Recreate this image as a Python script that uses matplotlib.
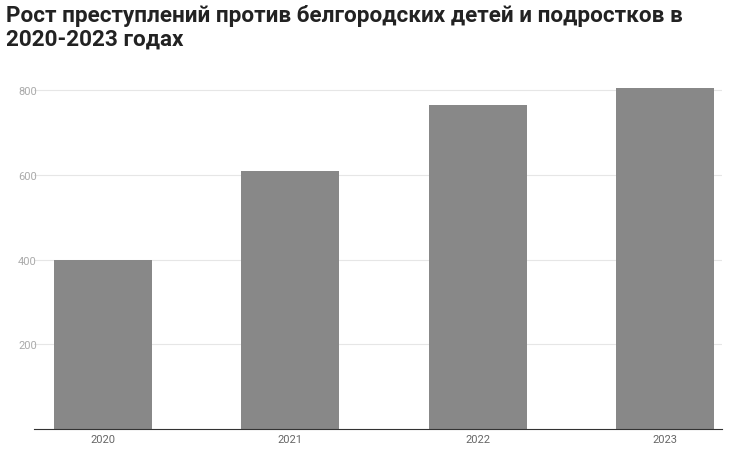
import matplotlib
matplotlib.use("Agg")
import matplotlib.pyplot as plt

years = ["2020", "2021", "2022", "2023"]
values = [400, 609, 765, 805]
yticks = [200, 400, 600, 800]

plt.rcParams['font.family'] = ['Roboto', 'DejaVu Sans']
fig = plt.figure(figsize=(7.38, 4.56), dpi=100)
ax = fig.add_axes([34/738, 1-430/456, (722-34)/738, (430-70)/456])
x = range(len(years))
ax.bar(x, values, width=0.523, color="#888888", zorder=2)
ax.set_xlim(-0.368, 3.304)
ax.set_ylim(0, 850)
ax.set_yticks(yticks)
ax.set_xticks(list(x))
ax.set_xticklabels(years)
ax.grid(axis='y', color='#e6e6e6', linewidth=0.8, zorder=0)
for s in ['top', 'right', 'left']:
    ax.spines[s].set_visible(False)
ax.spines['bottom'].set_color('#333333')
ax.tick_params(axis='both', length=0, labelsize=8, labelcolor='#666666')
ax.tick_params(axis='y', pad=-2)
for lbl in ax.get_yticklabels():
    lbl.set_color('#aaaaaa')
fig.text(0.008, 0.99, "Рост преступлений против белгородских детей и подростков в\n2020-2023 годах",
         fontsize=16.2, fontweight='bold', va='top', ha='left', color='#222222', linespacing=1.12)
fig.savefig("out.png", dpi=100)
